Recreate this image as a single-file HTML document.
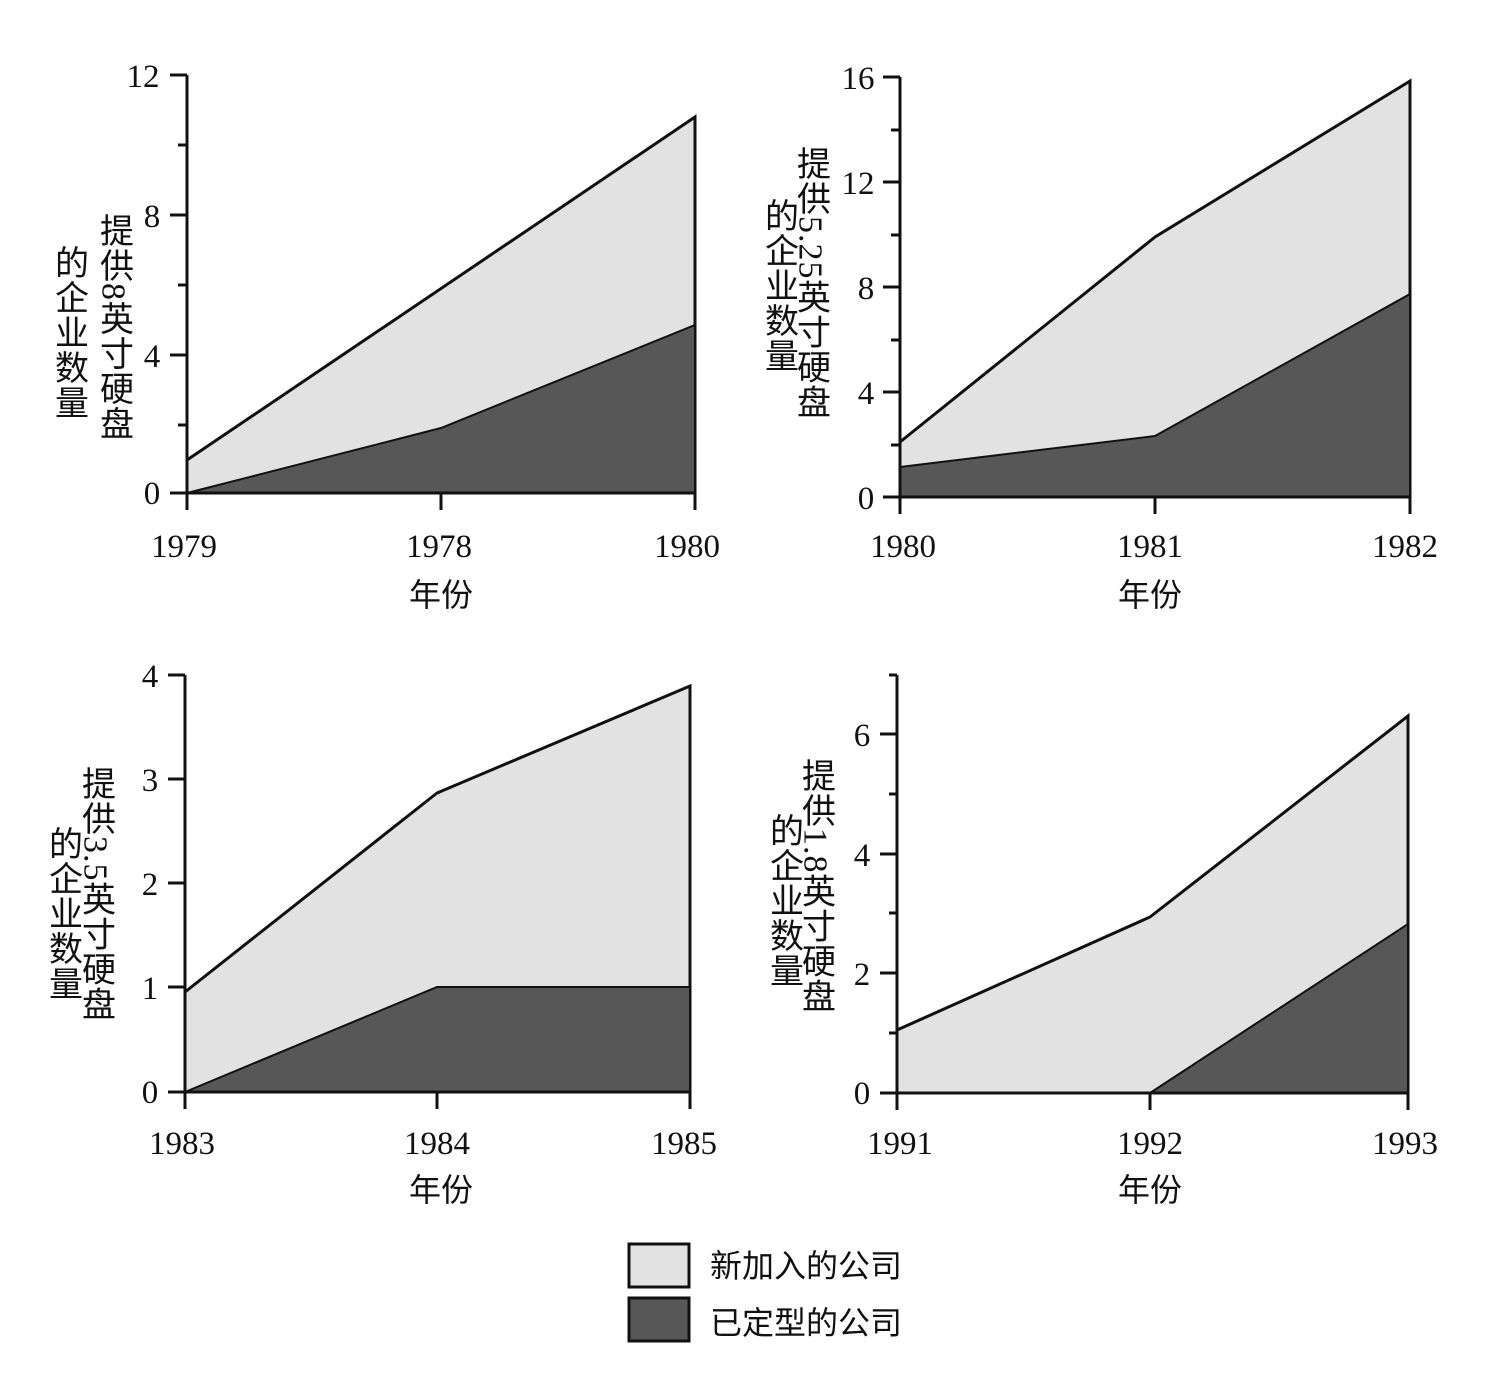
<!DOCTYPE html>
<html><head><meta charset="utf-8"><style>
body{margin:0;background:#fff}
svg{display:block}
.t{font-family:"Liberation Serif","Noto Serif CJK SC",serif;font-size:33px;fill:#111}
.c{font-family:"Liberation Serif","Noto Sans CJK SC",sans-serif;font-size:32px;fill:#111}
.v{font-family:"Liberation Serif","Noto Sans CJK SC",sans-serif;font-size:34px;fill:#111;writing-mode:vertical-rl;text-orientation:mixed;letter-spacing:1px}
.ax{stroke:#111;stroke-width:3;fill:none}
.lt{fill:#e2e2e2;stroke:#111;stroke-width:3}
.dk{fill:#575757;stroke:#111;stroke-width:2}
</style></head><body>
<svg width="1500" height="1376" viewBox="0 0 1500 1376">
<!-- Panel 1 -->
<polygon class="lt" points="187,460 695,117 695,493 187,493"/>
<polygon class="dk" points="187,493 441,428 695,325 695,493"/>
<path class="ax" d="M187,75V493H695M170,75H187M170,215H187M170,355H187M170,493H187M178,145H187M178,285H187M178,425H187M187,493V510M441,493V510M695,493V510"/>
<text class="t" x="143" y="87" text-anchor="middle">12</text>
<text class="t" x="152" y="227" text-anchor="middle">8</text>
<text class="t" x="152" y="367" text-anchor="middle">4</text>
<text class="t" x="152" y="504" text-anchor="middle">0</text>
<text class="t" x="184" y="557" text-anchor="middle">1979</text>
<text class="t" x="439" y="557" text-anchor="middle">1978</text>
<text class="t" x="687" y="557" text-anchor="middle">1980</text>
<text class="c" x="441" y="606" text-anchor="middle">年份</text>
<text class="v" x="113" y="213">提供8英寸硬盘</text>
<text class="v" x="68" y="245">的企业数量</text>
<!-- Panel 2 -->
<polygon class="lt" points="900,442 1155,237 1410,81 1410,497 900,497"/>
<polygon class="dk" points="900,467 1155,436 1410,294 1410,497 900,497"/>
<path class="ax" d="M900,77V497H1410M883,77H900M883,182H900M883,287H900M883,392H900M883,497H900M891,130H900M891,235H900M891,340H900M891,445H900M900,497V514M1155,497V514M1410,497V514"/>
<text class="t" x="858" y="89" text-anchor="middle">16</text>
<text class="t" x="858" y="194" text-anchor="middle">12</text>
<text class="t" x="866" y="299" text-anchor="middle">8</text>
<text class="t" x="866" y="404" text-anchor="middle">4</text>
<text class="t" x="866" y="509" text-anchor="middle">0</text>
<text class="t" x="903" y="557" text-anchor="middle">1980</text>
<text class="t" x="1150" y="557" text-anchor="middle">1981</text>
<text class="t" x="1405" y="557" text-anchor="middle">1982</text>
<text class="c" x="1150" y="606" text-anchor="middle">年份</text>
<text class="v" x="810" y="146">提供5.25英寸硬盘</text>
<text class="v" x="778" y="198">的企业数量</text>
<!-- Panel 3 -->
<polygon class="lt" points="185,992 437,793 690,686 690,1092 185,1092"/>
<polygon class="dk" points="185,1092 437,987 690,987 690,1092"/>
<path class="ax" d="M185,675V1092H690M168,675H185M168,779H185M168,883H185M168,987H185M168,1092H185M185,1092V1109M437,1092V1109M690,1092V1109"/>
<text class="t" x="150" y="687" text-anchor="middle">4</text>
<text class="t" x="150" y="791" text-anchor="middle">3</text>
<text class="t" x="150" y="895" text-anchor="middle">2</text>
<text class="t" x="150" y="999" text-anchor="middle">1</text>
<text class="t" x="150" y="1103" text-anchor="middle">0</text>
<text class="t" x="182" y="1154" text-anchor="middle">1983</text>
<text class="t" x="437" y="1154" text-anchor="middle">1984</text>
<text class="t" x="684" y="1154" text-anchor="middle">1985</text>
<text class="c" x="441" y="1201" text-anchor="middle">年份</text>
<text class="v" x="95" y="766">提供3.5英寸硬盘</text>
<text class="v" x="62" y="826">的企业数量</text>
<!-- Panel 4 -->
<polygon class="lt" points="897,1030 1150,917 1408,716 1408,1093 897,1093"/>
<polygon class="dk" points="1150,1093 1408,924 1408,1093"/>
<path class="ax" d="M897,675V1093H1408M880,734H897M880,854H897M880,973H897M880,1093H897M889,675H897M889,794H897M889,913H897M889,1033H897M897,1093V1110M1150,1093V1110M1408,1093V1110"/>
<text class="t" x="862" y="746" text-anchor="middle">6</text>
<text class="t" x="862" y="866" text-anchor="middle">4</text>
<text class="t" x="862" y="985" text-anchor="middle">2</text>
<text class="t" x="862" y="1104" text-anchor="middle">0</text>
<text class="t" x="900" y="1154" text-anchor="middle">1991</text>
<text class="t" x="1150" y="1154" text-anchor="middle">1992</text>
<text class="t" x="1405" y="1154" text-anchor="middle">1993</text>
<text class="c" x="1150" y="1201" text-anchor="middle">年份</text>
<text class="v" x="815" y="758">提供1.8英寸硬盘</text>
<text class="v" x="783" y="813">的企业数量</text>
<!-- Legend -->
<rect x="629" y="1244" width="60" height="43" fill="#e2e2e2" stroke="#111" stroke-width="3"/>
<rect x="629" y="1298" width="60" height="43" fill="#575757" stroke="#111" stroke-width="3"/>
<text class="c" x="710" y="1277">新加入的公司</text>
<text class="c" x="710" y="1334">已定型的公司</text>
</svg>
</body></html>
